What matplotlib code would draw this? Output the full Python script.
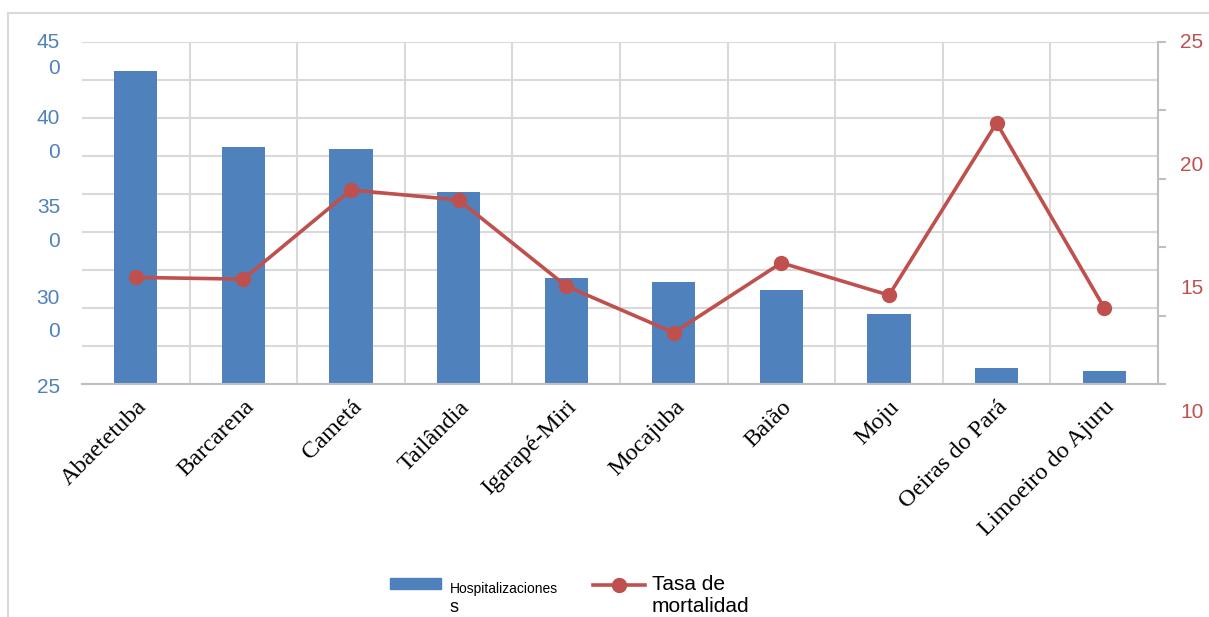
import matplotlib.pyplot as plt
from matplotlib.patches import Rectangle
from matplotlib.lines import Line2D
import numpy as np

municipios = ['Abaetetuba', 'Barcarena', 'Cametá', 'Tailândia', 'Igarapé-Miri',
              'Mocajuba', 'Baião', 'Moju', 'Oeiras do Pará', 'Limoeiro do Ajuru']
hospitalizaciones = [412, 312, 309, 252, 139, 134, 124, 92, 21, 17]
tasa_mortalidad = [15.46, 15.39, 19.0, 18.6, 15.11, 13.22, 16.05, 14.74, 21.72, 14.23]

# left axis labels come out split over two lines, one piece per position
izq_textos = ['45', '0', '40', '0', '35', '0', '30', '0', '25']
izq_pos = [449, 415, 350, 304, 232, 188, 113, 68.5, -4]
der_textos = ['25', '20', '15', '10']
der_pos = [25, 20, 15, 10]

azul = '#4F81BD'
rojo = '#C0504D'
gris = '#D9D9D9'

plt.rcParams['font.family'] = ['Liberation Sans', 'DejaVu Sans']

fig = plt.figure(figsize=(12.09, 6.17), dpi=100)
ax = fig.add_axes([82/1209, 1-384/617, 1076/1209, 342/617])
x = np.arange(len(municipios))

# bars (left axis)
ax.bar(x, hospitalizaciones, width=0.4, color=azul, zorder=2)
ax.set_xlim(-0.5, len(municipios)-0.5)
ax.set_ylim(0, 450)
ax.set_yticks(np.arange(0, 451, 50))
ax.set_yticklabels([])
ax.set_xticks(x)
ax.set_xticklabels(municipios, rotation=45, ha='right', va='top',
                   rotation_mode='anchor', family='Liberation Serif', fontsize=17.5)
ax.set_xticks(np.arange(0.5, len(municipios)-1, 1), minor=True)
ax.tick_params(axis='both', which='both', length=0)
ax.tick_params(axis='x', which='major', pad=9)
ax.grid(axis='y', which='major', color=gris, lw=1.5)
ax.grid(axis='x', which='minor', color=gris, lw=1.5)
ax.set_axisbelow(True)
for s in ['left', 'top', 'right']:
    ax.spines[s].set_visible(False)
ax.spines['bottom'].set_color('#BFBFBF')
ax.spines['bottom'].set_linewidth(1.5)

for t, p in zip(izq_textos, izq_pos):
    ax.text(-0.0204, p, t, transform=ax.get_yaxis_transform(), ha='right',
            va='center', color=azul, fontsize=15, clip_on=False)

# line (right axis)
ax2 = ax.twinx()
ax2.plot(x, tasa_mortalidad, color=rojo, lw=2.6, marker='o', ms=10, zorder=3)
ax2.set_ylim(11.14, 25.0)
ax2.set_yticks(np.linspace(11.14, 25.0, 6))
ax2.set_yticklabels([])
ax2.tick_params(axis='y', length=6, width=1.5, color='#BFBFBF', direction='out')
for s in ['left', 'top', 'bottom']:
    ax2.spines[s].set_visible(False)
ax2.spines['right'].set_color('#BFBFBF')
ax2.spines['right'].set_linewidth(1.5)

for t, p in zip(der_textos, der_pos):
    ax2.text(1.0204, p, t, transform=ax2.get_yaxis_transform(), ha='left',
             va='center', color=rojo, fontsize=15, clip_on=False)

# legend drawn by hand
fig.add_artist(Rectangle((390/1209, 1-589/617), 51/1209, 11/617,
                         transform=fig.transFigure, color=azul))
fig.text(450/1209, 1-589/617, 'Hospitalizaciones', fontsize=10, va='center')
fig.text(450/1209, 1-616.5/617, 's', fontsize=13, va='bottom')
fig.add_artist(Line2D([593/1209, 645/1209], [1-585/617]*2, color=rojo, lw=2.6,
                      transform=fig.transFigure))
fig.add_artist(Line2D([619/1209], [1-585/617], color=rojo, marker='o', ms=10,
                      transform=fig.transFigure))
fig.text(652/1209, 1-585/617, 'Tasa de', fontsize=15, va='center')
fig.text(652/1209, 1-616/617, 'mortalidad', fontsize=15, va='bottom')

# outer frame
fig.add_artist(Rectangle((8/1209, -0.5), 2, 0.5+1-13/617, transform=fig.transFigure,
                         fill=False, edgecolor=gris, lw=1.5))

fig.savefig('out.png', dpi=100)
